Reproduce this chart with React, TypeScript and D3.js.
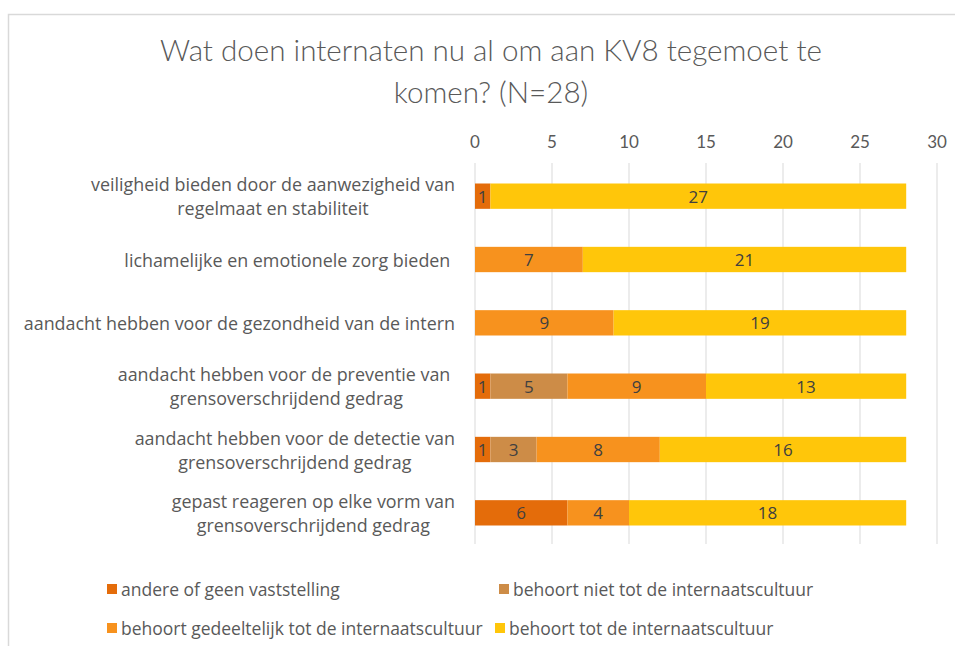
import React from "react";
import * as d3 from "d3";

const categories: string[][] = [
  ["veiligheid bieden door de aanwezigheid van", "regelmaat en stabiliteit"],
  ["lichamelijke en emotionele zorg bieden "],
  ["aandacht hebben voor de gezondheid van de intern"],
  ["aandacht hebben voor de preventie van ", "grensoverschrijdend gedrag"],
  ["aandacht hebben voor de detectie van", "grensoverschrijdend gedrag"],
  ["gepast reageren op elke vorm van", "grensoverschrijdend gedrag"],
];
const seriesNames = [
  "andere of geen vaststelling",
  "behoort niet tot de internaatscultuur",
  "behoort gedeeltelijk tot de internaatscultuur",
  "behoort tot de internaatscultuur",
];
const seriesColors = ["#E46C0A", "#CD8C47", "#F7921E", "#FFC60A"];
const andere = [1, 0, 0, 1, 1, 6];
const behoortNiet = [0, 0, 0, 5, 3, 0];
const gedeeltelijk = [0, 7, 9, 9, 8, 4];
const behoort = [27, 21, 19, 13, 16, 18];
const xTicks = [0, 5, 10, 15, 20, 25, 30];
const titleLines = ["Wat doen internaten nu al om aan KV8 tegemoet te", "komen? (N=28)"];

const W = 955;
const H = 646;
const LABEL_SIZE = 17.9;

let ctx: CanvasRenderingContext2D | null = null;
function measure(t: string): number {
  if (!ctx) {
    const c = document.createElement("canvas");
    ctx = c.getContext("2d");
  }
  if (!ctx) return t.length * 8.6;
  ctx.font = `${LABEL_SIZE}px 'Open Sans', sans-serif`;
  return ctx.measureText(t).width;
}

export default function App() {
  const series = [andere, behoortNiet, gedeeltelijk, behoort];
  const x = d3.scaleLinear().domain([0, 30]).range([475, 937]);
  const y = d3
    .scaleBand<number>()
    .domain(categories.map((_, i) => i))
    .range([164.5, 544.5])
    .paddingInner(0.6)
    .paddingOuter(0.3);
  const rows = categories.map((_, i) => series.map((s) => s[i]));
  const stacked = rows.map((vals) => {
    let acc = 0;
    return vals.map((v) => {
      const start = acc;
      acc += v;
      return [start, acc];
    });
  });
  const font = "'Open Sans', sans-serif";
  const titleFont = "Lato, 'Open Sans', sans-serif";
  const textColor = "#595959";
  const labelRight = 455;
  const legendPos = [
    { x: 107, y: 589 },
    { x: 499, y: 589 },
    { x: 107, y: 628 },
    { x: 495, y: 628 },
  ];
  return (
    <svg
      width={W}
      height={H}
      style={{ position: "absolute", left: 0, top: 0, background: "#fff" }}
      fontFamily={font}
    >
      <rect x={0} y={0} width={W} height={H} fill="#fff" />
      <path d={`M8.5,${H} V14.5 H${W}`} fill="none" stroke="#D9D9D9" strokeWidth={1.5} />
      {titleLines.map((t, i) => (
        <text
          key={i}
          x={491}
          y={61 + i * 42}
          textAnchor="middle"
          fontSize={29.6}
          fontWeight={300}
          fontFamily={titleFont}
          fill={textColor}
        >
          {t}
        </text>
      ))}
      {xTicks.map((t) => (
        <g key={t}>
          <line x1={x(t)} x2={x(t)} y1={163} y2={544} stroke="#D9D9D9" strokeWidth={1} />
          <text x={x(t)} y={148} textAnchor="middle" fontSize={17} fontFamily={titleFont} fill={textColor}>
            {t}
          </text>
        </g>
      ))}
      {categories.map((lines, i) => {
        const cy = (y(i) as number) + y.bandwidth() / 2;
        const lh = 24;
        const y0 = cy - ((lines.length - 1) * lh) / 2;
        const maxW = Math.max(...lines.map(measure));
        const cx = labelRight - maxW / 2;
        return (
          <text key={i} fontSize={LABEL_SIZE} fill={textColor} dominantBaseline="central">
            {lines.map((l, j) => (
              <tspan
                key={j}
                x={cx}
                y={y0 + j * lh}
                textAnchor="middle"
                style={{ whiteSpace: "pre" }}
              >
                {l}
              </tspan>
            ))}
          </text>
        );
      })}
      {stacked.map((segs, i) =>
        segs.map(([a, b], k) =>
          b - a > 0 ? (
            <g key={`${i}-${k}`}>
              <rect
                x={x(a)}
                y={y(i)}
                width={x(b) - x(a)}
                height={y.bandwidth()}
                fill={seriesColors[k]}
              />
              <text
                x={(x(a) + x(b)) / 2}
                y={(y(i) as number) + y.bandwidth() / 2}
                textAnchor="middle"
                dominantBaseline="central"
                fontSize={17}
                fill="#404040"
              >
                {b - a}
              </text>
            </g>
          ) : null
        )
      )}
      {seriesNames.map((n, k) => (
        <g key={n}>
          <rect x={legendPos[k].x} y={legendPos[k].y - 5} width={10} height={10} fill={seriesColors[k]} />
          <text
            x={legendPos[k].x + 14}
            y={legendPos[k].y}
            dominantBaseline="central"
            fontSize={17.5}
            fill={textColor}
          >
            {n}
          </text>
        </g>
      ))}
    </svg>
  );
}
